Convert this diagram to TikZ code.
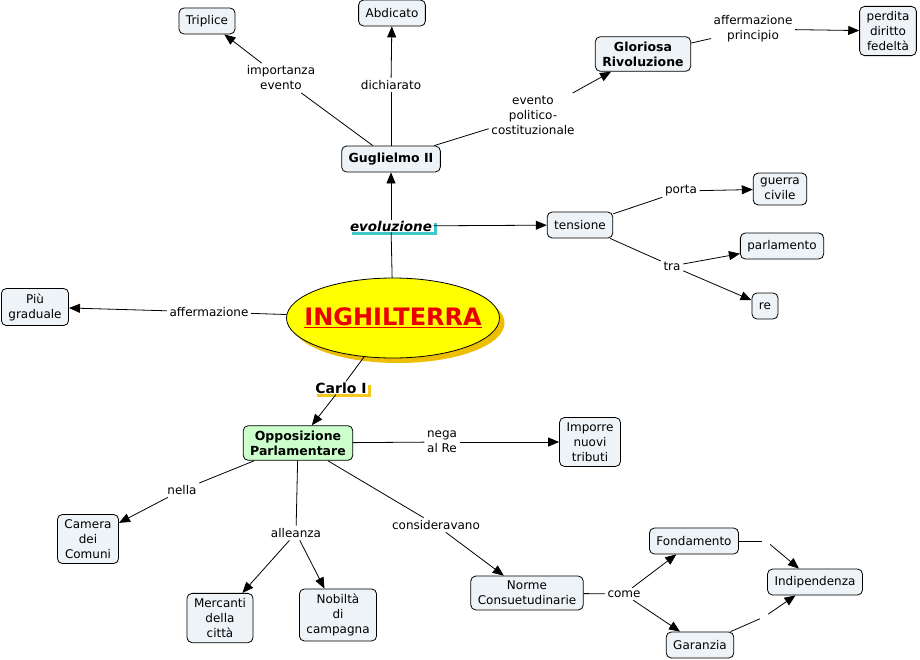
\documentclass[tikz,border=0pt]{standalone}
\usepackage{fontspec}
\setmainfont{DejaVu Sans}
\usetikzlibrary{arrows.meta,shapes.geometric,shadows}
\definecolor{boxfill}{RGB}{238,243,247}
\definecolor{oppfill}{RGB}{204,255,204}
\definecolor{ellfill}{RGB}{255,255,0}
\definecolor{ellshadow}{RGB}{238,190,0}
\definecolor{evoshadow}{RGB}{64,200,200}
\definecolor{carloshadow}{RGB}{245,200,30}
\definecolor{ingred}{RGB}{235,0,0}
\begin{document}
\begin{tikzpicture}[x=1pt,y=-1pt,
  font=\fontsize{12}{15}\selectfont,
  concept/.style={draw=black, line width=0.8pt, rounded corners=5pt, fill=boxfill, align=center, inner xsep=7pt, inner ysep=5pt, minimum height=26pt},
  boldtxt/.style={font=\fontsize{12.5}{15}\selectfont\bfseries},
  phrase/.style={align=center, inner sep=2.5pt},
  emptyph/.style={inner sep=4pt},
  link/.style={line width=0.8pt, draw=black},
  arr/.style={link, -{Triangle[length=11pt,width=9pt]}},
  evo/.style={fill=white, inner xsep=1.5pt, inner ysep=1pt, font=\fontsize{13.5}{15}\selectfont\bfseries\itshape,
    drop shadow={shadow xshift=3pt, shadow yshift=-3pt, fill=evoshadow, opacity=1}},
  carlo/.style={fill=white, inner xsep=1pt, inner ysep=1pt, font=\fontsize{14}{15}\selectfont\bfseries,
    drop shadow={shadow xshift=3pt, shadow yshift=-3pt, fill=carloshadow, opacity=1}},
]
\useasboundingbox[fill=white] (0,0) rectangle (920,659);

% concepts
\node[concept] (trip) at (207,21) {Triplice};
\node[concept] (abd) at (392,13) {Abdicato};
\node[concept,boldtxt] (glor) at (643,54) {Gloriosa\\Rivoluzione};
\node[concept] (perd) at (888,31) {perdita\\diritto\\fedeltà};
\node[concept,boldtxt] (gug) at (391,159) {Guglielmo II};
\node[evo] (evo) at (391,226) {evoluzione};
\node[concept] (ten) at (580,225) {tensione};
\node[concept] (guer) at (780,189) {guerra\\civile};
\node[concept] (parl) at (782,246) {parlamento};
\node[concept] (re) at (765,306) {re};
\node[concept] (piu) at (35,307) {Più\\graduale};
\node[ellipse, draw=black, line width=0.8pt, fill=ellfill, minimum width=213pt, minimum height=80pt, inner sep=0pt,
  drop shadow={shadow xshift=5pt, shadow yshift=-5pt, fill=ellshadow, opacity=1}] (ing) at (393,318) {};
\node[font=\fontsize{24}{26}\selectfont\bfseries, text=ingred, inner sep=0pt] (ingtxt) at (ing.center) {\underline{INGHILTERRA}};
\node[carlo] (carlo) at (341,388) {Carlo I};
\node[concept,fill=oppfill,boldtxt] (opp) at (298,443) {Opposizione\\Parlamentare};
\node[concept] (imp) at (590,442) {Imporre\\nuovi\\tributi};
\node[concept] (cam) at (88,539) {Camera\\dei\\Comuni};
\node[concept] (mer) at (220,618) {Mercanti\\della\\città};
\node[concept] (nob) at (338,615) {Nobiltà\\di\\campagna};
\node[concept] (nor) at (527,593) {Norme\\Consuetudinarie};
\node[concept] (fon) at (694,541) {Fondamento};
\node[concept] (ind) at (815,582) {Indipendenza};
\node[concept] (gar) at (700,645) {Garanzia};

% linking phrases
\node[phrase] (p1) at (281,78) {importanza\\evento};
\node[phrase] (p2) at (391,85) {dichiarato};
\node[phrase] (p3) at (533,115) {evento\\politico-\\costituzionale};
\node[phrase] (p4) at (753,29) {affermazione\\principio};
\node[phrase] (p5) at (681,191) {porta};
\node[phrase] (p6) at (672,266) {tra};
\node[phrase] (p7) at (209,312) {affermazione};
\node[phrase] (p8) at (442,442) {nega\\al Re};
\node[phrase] (p9) at (182,490) {nella};
\node[phrase] (p10) at (296,533) {alleanza};
\node[phrase] (p11) at (436,525) {consideravano};
\node[phrase] (p12) at (624,594) {come};
\node[emptyph] (e1) at (766,541) {};
\node[emptyph] (e2) at (764,617) {};

% connectors
\draw[link] (gug) -- (p1); \draw[arr] (p1) -- (trip);
\draw[link] (gug) -- (p2); \draw[arr] (p2) -- (abd);
\draw[link] (gug) -- (p3); \draw[arr] (p3) -- (glor);
\draw[link] (glor) -- (p4); \draw[arr] (p4) -- (perd);
\draw[link] (ing) -- (evo); \draw[arr] (evo) -- (gug); \draw[arr] (evo) -- (ten);
\draw[link] (ten) -- (p5); \draw[arr] (p5) -- (guer);
\draw[link] (ten) -- (p6); \draw[arr] (p6) -- (parl); \draw[arr] (p6) -- (re);
\draw[link] (ing) -- (p7); \draw[arr] (p7) -- (piu);
\draw[link] (ing) -- (carlo); \draw[arr] (carlo) -- (opp);
\draw[link] (opp) -- (p8); \draw[arr] (p8) -- (imp);
\draw[link] (opp) -- (p9); \draw[arr] (p9) -- (cam);
\draw[link] (opp) -- (p10); \draw[arr] (p10) -- (mer); \draw[arr] (p10) -- (nob);
\draw[link] (opp) -- (p11); \draw[arr] (p11) -- (nor);
\draw[link] (nor) -- (p12); \draw[arr] (p12) -- (fon); \draw[arr] (p12) -- (gar);
\draw[link] (fon) -- (e1); \draw[arr] (e1) -- (ind);
\draw[link] (gar) -- (e2); \draw[arr] (e2) -- (ind);
\end{tikzpicture}
\end{document}
